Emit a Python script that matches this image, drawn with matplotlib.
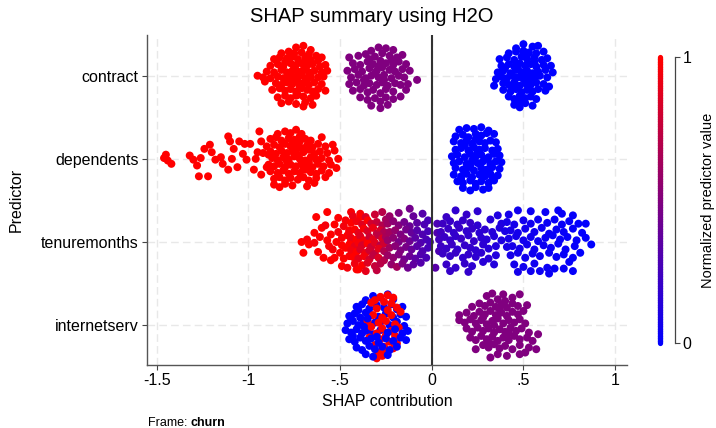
import matplotlib.pyplot as plt
import numpy as np
from matplotlib.colors import LinearSegmentedColormap
from matplotlib.collections import LineCollection

plt.rcParams['font.family'] = ['Liberation Sans', 'DejaVu Sans']

predictors = ['contract', 'dependents', 'tenuremonths', 'internetserv']
row_pos = [4, 3, 2, 1]
xticks = [-1.5, -1, -0.5, 0, 0.5, 1]
xtick_labels = ['-1.5', '-1', '-.5', '0', '.5', '1']

# (SHAP value, vertical jitter) for each observation, grouped by predictor level
contract_high = [
    (-0.74, 0.34), (-0.70, 0.36), (-0.66, 0.31),
    (-0.82, 0.27), (-0.78, 0.29), (-0.75, 0.27), (-0.71, 0.28), (-0.67, 0.26), (-0.63, 0.24),
    (-0.86, 0.20), (-0.83, 0.22), (-0.79, 0.21), (-0.76, 0.23), (-0.73, 0.20), (-0.69, 0.22),
    (-0.66, 0.19), (-0.62, 0.18), (-0.60, 0.22),
    (-0.88, 0.12), (-0.84, 0.14), (-0.81, 0.11), (-0.77, 0.15), (-0.74, 0.13), (-0.71, 0.15),
    (-0.68, 0.12), (-0.65, 0.14), (-0.61, 0.11), (-0.58, 0.13),
    (-0.90, 0.05), (-0.86, 0.04), (-0.82, 0.07), (-0.79, 0.04), (-0.76, 0.06), (-0.73, 0.05),
    (-0.70, 0.07), (-0.67, 0.04), (-0.64, 0.06), (-0.60, 0.04), (-0.57, 0.06),
    (-0.95, 0.00), (-0.92, -0.02), (-0.88, -0.03), (-0.84, -0.01), (-0.81, -0.03), (-0.78, 0.00),
    (-0.75, -0.02), (-0.72, 0.00), (-0.69, -0.03), (-0.66, -0.01), (-0.62, -0.02), (-0.59, -0.01),
    (-0.91, -0.07), (-0.85, -0.09), (-0.82, -0.11), (-0.79, -0.08), (-0.76, -0.10), (-0.73, -0.07),
    (-0.70, -0.09), (-0.67, -0.11), (-0.64, -0.08), (-0.60, -0.10),
    (-0.87, -0.17), (-0.83, -0.15), (-0.80, -0.18), (-0.77, -0.16), (-0.74, -0.19), (-0.71, -0.15),
    (-0.68, -0.17), (-0.65, -0.19), (-0.62, -0.16), (-0.58, -0.18),
    (-0.84, -0.26), (-0.80, -0.24), (-0.77, -0.27), (-0.73, -0.23), (-0.70, -0.25), (-0.66, -0.27),
    (-0.63, -0.24),
    (-0.82, -0.33), (-0.78, -0.31), (-0.74, -0.34), (-0.70, -0.37), (-0.69, -0.32), (-0.65, -0.35),
    (-0.75, 0.10), (-0.72, -0.13), (-0.69, 0.17), (-0.77, -0.05), (-0.71, 0.02), (-0.74, -0.24),
    (-0.68, -0.05), (-0.80, 0.16),
]
contract_mid = [
    (-0.29, 0.34), (-0.25, 0.33), (-0.21, 0.31), (-0.33, 0.30),
    (-0.45, 0.22), (-0.40, 0.24), (-0.36, 0.26), (-0.31, 0.23), (-0.27, 0.27), (-0.23, 0.24),
    (-0.19, 0.22), (-0.16, 0.25),
    (-0.43, 0.15), (-0.39, 0.13), (-0.35, 0.17), (-0.32, 0.14), (-0.28, 0.18), (-0.25, 0.15),
    (-0.21, 0.13), (-0.18, 0.17), (-0.14, 0.14),
    (-0.46, 0.06), (-0.42, 0.08), (-0.38, 0.05), (-0.34, 0.09), (-0.30, 0.06), (-0.27, 0.10),
    (-0.23, 0.07), (-0.20, 0.05), (-0.16, 0.08), (-0.12, 0.06),
    (-0.44, -0.02), (-0.40, 0.01), (-0.36, -0.03), (-0.33, 0.00), (-0.29, -0.02), (-0.26, 0.01),
    (-0.22, -0.03), (-0.18, 0.00), (-0.15, -0.02), (-0.08, -0.05),
    (-0.45, -0.10), (-0.41, -0.08), (-0.37, -0.12), (-0.34, -0.09), (-0.30, -0.11), (-0.27, -0.08),
    (-0.24, -0.12), (-0.20, -0.09), (-0.17, -0.11), (-0.13, -0.10),
    (-0.43, -0.18), (-0.39, -0.16), (-0.35, -0.20), (-0.32, -0.17), (-0.28, -0.21), (-0.25, -0.16),
    (-0.21, -0.19), (-0.14, -0.17),
    (-0.39, -0.26), (-0.35, -0.29), (-0.31, -0.27), (-0.28, -0.31), (-0.25, -0.26), (-0.21, -0.28),
    (-0.17, -0.25),
    (-0.33, -0.36), (-0.28, -0.39), (-0.24, -0.35),
    (-0.31, 0.03), (-0.26, -0.05), (-0.34, 0.20), (-0.22, 0.19), (-0.37, -0.05), (-0.29, 0.11),
]
contract_low = [
    (0.50, 0.38), (0.55, 0.35), (0.58, 0.36), (0.46, 0.33),
    (0.42, 0.27), (0.46, 0.29), (0.50, 0.30), (0.53, 0.28), (0.57, 0.27), (0.61, 0.29),
    (0.37, 0.20), (0.41, 0.22), (0.45, 0.19), (0.49, 0.23), (0.52, 0.20), (0.56, 0.22),
    (0.60, 0.19), (0.63, 0.21),
    (0.38, 0.12), (0.42, 0.14), (0.45, 0.11), (0.48, 0.15), (0.51, 0.12), (0.54, 0.14),
    (0.57, 0.11), (0.61, 0.13), (0.65, 0.12),
    (0.36, 0.04), (0.39, 0.06), (0.43, 0.03), (0.46, 0.07), (0.49, 0.04), (0.52, 0.06),
    (0.55, 0.03), (0.58, 0.05), (0.62, 0.07), (0.66, 0.04),
    (0.35, -0.04), (0.38, -0.01), (0.41, -0.03), (0.44, 0.00), (0.47, -0.02), (0.50, -0.04),
    (0.53, -0.01), (0.56, -0.03), (0.59, 0.00), (0.63, -0.02),
    (0.34, -0.12), (0.39, -0.09), (0.42, -0.11), (0.45, -0.08), (0.48, -0.12), (0.51, -0.09),
    (0.54, -0.11), (0.57, -0.08), (0.61, -0.10), (0.64, -0.13),
    (0.39, -0.17), (0.43, -0.19), (0.46, -0.16), (0.49, -0.20), (0.52, -0.17), (0.55, -0.19),
    (0.58, -0.16), (0.62, -0.18),
    (0.42, -0.25), (0.45, -0.28), (0.48, -0.24), (0.51, -0.27), (0.54, -0.25), (0.57, -0.28),
    (0.45, -0.35), (0.48, -0.38), (0.51, -0.33), (0.55, -0.36),
    (0.47, 0.09), (0.53, -0.06), (0.44, -0.14), (0.56, 0.17), (0.50, 0.00), (0.48, -0.30),
    (0.52, 0.25), (0.40, 0.09),
]

dependents_high = [
    (-1.46, 0.01), (-1.44, -0.02), (-1.42, -0.06), (-1.45, 0.05),
    (-1.32, 0.04), (-1.30, -0.01), (-1.28, -0.08), (-1.26, 0.01), (-1.27, -0.21), (-1.22, -0.21),
    (-1.24, 0.12), (-1.21, 0.17), (-1.20, 0.08), (-1.18, -0.01), (-1.15, 0.02), (-1.14, -0.06),
    (-1.11, 0.27), (-1.10, 0.21), (-1.08, 0.12), (-1.09, 0.00), (-1.11, -0.13), (-1.06, -0.10),
    (-1.05, 0.21), (-1.02, 0.18), (-1.03, 0.06), (-0.99, 0.18), (-1.01, -0.01), (-0.96, 0.00),
    (-0.95, 0.08), (-0.94, 0.33), (-0.93, 0.21), (-0.97, -0.13), (-0.93, -0.19), (-0.89, 0.05),
    (-0.90, -0.10),
    (-0.84, 0.30), (-0.80, 0.33), (-0.77, 0.31), (-0.74, 0.35), (-0.71, 0.30),
    (-0.88, 0.24), (-0.85, 0.26), (-0.82, 0.22), (-0.78, 0.25), (-0.75, 0.23), (-0.72, 0.27),
    (-0.69, 0.24), (-0.66, 0.22), (-0.60, 0.26),
    (-0.90, 0.15), (-0.86, 0.17), (-0.83, 0.14), (-0.80, 0.18), (-0.77, 0.15), (-0.74, 0.17),
    (-0.71, 0.13), (-0.68, 0.16), (-0.65, 0.14), (-0.62, 0.18), (-0.58, 0.15), (-0.54, 0.17),
    (-0.92, 0.07), (-0.88, 0.09), (-0.85, 0.06), (-0.82, 0.10), (-0.79, 0.07), (-0.76, 0.09),
    (-0.73, 0.05), (-0.70, 0.08), (-0.67, 0.11), (-0.64, 0.06), (-0.61, 0.09), (-0.57, 0.07),
    (-0.53, 0.10),
    (-0.87, 0.01), (-0.84, -0.02), (-0.81, 0.02), (-0.78, -0.01), (-0.75, 0.03), (-0.72, 0.00),
    (-0.69, -0.02), (-0.66, 0.02), (-0.63, -0.01), (-0.60, 0.01), (-0.56, -0.02), (-0.51, 0.00),
    (-0.89, -0.07), (-0.86, -0.09), (-0.83, -0.06), (-0.80, -0.10), (-0.77, -0.07), (-0.74, -0.09),
    (-0.71, -0.05), (-0.68, -0.08), (-0.65, -0.10), (-0.62, -0.06), (-0.59, -0.09), (-0.55, -0.07),
    (-0.52, -0.11),
    (-0.88, -0.15), (-0.84, -0.17), (-0.81, -0.14), (-0.78, -0.18), (-0.75, -0.15), (-0.72, -0.17),
    (-0.69, -0.13), (-0.66, -0.16), (-0.63, -0.18), (-0.60, -0.14), (-0.56, -0.17),
    (-0.86, -0.24), (-0.83, -0.22), (-0.80, -0.26), (-0.77, -0.23), (-0.73, -0.25), (-0.70, -0.22),
    (-0.67, -0.26), (-0.63, -0.23), (-0.58, -0.22),
    (-0.86, -0.31), (-0.83, -0.34), (-0.80, -0.30), (-0.76, -0.32), (-0.68, -0.33), (-0.64, -0.29),
    (-0.74, 0.12), (-0.70, -0.11), (-0.76, 0.20), (-0.67, -0.04), (-0.72, 0.21), (-0.79, -0.03),
]
dependents_low = [
    (0.15, 0.35), (0.19, 0.37), (0.23, 0.36), (0.27, 0.38), (0.31, 0.34),
    (0.13, 0.27), (0.17, 0.29), (0.20, 0.26), (0.24, 0.30), (0.27, 0.28), (0.30, 0.31), (0.34, 0.30),
    (0.12, 0.21), (0.16, 0.19), (0.19, 0.22), (0.22, 0.18), (0.26, 0.21), (0.29, 0.19),
    (0.32, 0.22), (0.35, 0.20),
    (0.13, 0.11), (0.16, 0.13), (0.20, 0.10), (0.23, 0.14), (0.26, 0.11), (0.29, 0.13),
    (0.33, 0.10), (0.36, 0.12),
    (0.11, 0.03), (0.14, 0.05), (0.18, 0.02), (0.21, 0.06), (0.24, 0.03), (0.27, 0.05),
    (0.31, 0.02), (0.34, 0.06), (0.37, 0.04),
    (0.12, -0.05), (0.15, -0.03), (0.19, -0.06), (0.22, -0.02), (0.25, -0.05), (0.28, -0.03),
    (0.32, -0.06), (0.35, -0.03), (0.38, -0.04),
    (0.13, -0.11), (0.17, -0.13), (0.20, -0.10), (0.23, -0.14), (0.27, -0.11), (0.30, -0.13),
    (0.33, -0.10), (0.37, -0.12),
    (0.12, -0.19), (0.16, -0.21), (0.19, -0.18), (0.22, -0.22), (0.26, -0.19), (0.29, -0.21),
    (0.32, -0.18), (0.36, -0.20),
    (0.14, -0.27), (0.17, -0.29), (0.21, -0.26), (0.24, -0.30), (0.27, -0.27), (0.31, -0.29),
    (0.34, -0.26),
    (0.17, -0.35), (0.21, -0.38), (0.24, -0.34), (0.28, -0.37), (0.31, -0.35),
    (0.18, 0.16), (0.25, 0.08), (0.21, -0.08), (0.28, -0.16), (0.24, 0.24), (0.30, 0.00),
    (0.16, -0.24), (0.33, -0.22),
]

# tenure carries its own normalized value per observation: (SHAP, jitter, value)
tenure = [
    (-0.71, 0.00, 1.0), (-0.70, -0.13, 1.0), (-0.68, 0.03, 0.98), (-0.67, -0.03, 1.0),
    (-0.64, 0.11, 1.0), (-0.64, -0.01, 0.97), (-0.63, 0.30, 1.0), (-0.62, -0.12, 1.0),
    (-0.61, 0.06, 0.99), (-0.60, 0.17, 1.0), (-0.59, -0.19, 1.0), (-0.58, 0.20, 0.96),
    (-0.57, 0.36, 1.0), (-0.57, 0.02, 1.0), (-0.56, -0.05, 0.98), (-0.55, -0.22, 1.0),
    (-0.55, 0.09, 1.0), (-0.54, -0.09, 0.97), (-0.53, 0.21, 1.0), (-0.53, -0.19, 1.0),
    (-0.52, 0.00, 1.0), (-0.51, 0.29, 0.99), (-0.51, 0.12, 0.96), (-0.50, -0.13, 1.0),
    (-0.49, -0.29, 1.0), (-0.49, 0.05, 0.98), (-0.49, -0.04, 1.0), (-0.48, 0.19, 0.95),
    (-0.48, -0.20, 1.0), (-0.47, 0.26, 0.97), (-0.47, -0.07, 1.0), (-0.46, 0.08, 0.99),
    (-0.46, -0.31, 0.96), (-0.45, 0.14, 1.0), (-0.45, -0.17, 0.98), (-0.44, 0.36, 0.97),
    (-0.44, 0.02, 1.0), (-0.41, -0.33, 1.0), (-0.39, 0.34, 0.98),
    (-0.43, 0.31, 0.92), (-0.39, 0.30, 1.0), (-0.36, 0.30, 0.85), (-0.31, 0.33, 0.80),
    (-0.27, 0.36, 0.72),
    (-0.44, 0.23, 1.0), (-0.41, 0.25, 0.95), (-0.38, 0.21, 0.88), (-0.35, 0.26, 1.0),
    (-0.33, 0.22, 0.82), (-0.30, 0.24, 0.78), (-0.27, 0.20, 0.70), (-0.25, 0.27, 0.65),
    (-0.45, 0.12, 0.96), (-0.42, 0.15, 1.0), (-0.40, 0.11, 0.90), (-0.37, 0.16, 0.97),
    (-0.35, 0.13, 0.85), (-0.32, 0.17, 0.92), (-0.30, 0.10, 0.76), (-0.28, 0.14, 0.83),
    (-0.26, 0.12, 0.68),
    (-0.44, 0.05, 0.93), (-0.41, 0.03, 1.0), (-0.39, 0.07, 0.87), (-0.37, 0.02, 0.95),
    (-0.34, 0.06, 0.80), (-0.32, 0.03, 0.90), (-0.29, 0.08, 0.74), (-0.27, 0.04, 0.86),
    (-0.25, 0.06, 0.66),
    (-0.45, -0.03, 1.0), (-0.42, -0.05, 0.91), (-0.40, -0.01, 0.97), (-0.38, -0.04, 0.84),
    (-0.35, -0.02, 1.0), (-0.33, -0.06, 0.79), (-0.31, -0.01, 0.88), (-0.28, -0.04, 0.72),
    (-0.26, -0.02, 0.81),
    (-0.44, -0.10, 0.95), (-0.41, -0.12, 1.0), (-0.39, -0.09, 0.86), (-0.36, -0.13, 0.93),
    (-0.34, -0.10, 0.82), (-0.31, -0.14, 0.77), (-0.29, -0.08, 0.90), (-0.26, -0.11, 0.69),
    (-0.43, -0.18, 1.0), (-0.40, -0.20, 0.89), (-0.37, -0.17, 0.96), (-0.34, -0.21, 0.83),
    (-0.32, -0.16, 0.75), (-0.29, -0.19, 0.86), (-0.26, -0.22, 0.71),
    (-0.42, -0.26, 0.94), (-0.38, -0.28, 1.0), (-0.35, -0.25, 0.87), (-0.31, -0.29, 0.78),
    (-0.28, -0.26, 0.73),
    (-0.40, -0.33, 1.0), (-0.36, -0.35, 0.90), (-0.30, -0.34, 0.76),
    (-0.23, 0.31, 0.60), (-0.18, 0.35, 0.50), (-0.12, 0.40, 0.45), (-0.10, 0.31, 0.40),
    (-0.05, 0.34, 0.33),
    (-0.24, 0.22, 0.62), (-0.21, 0.25, 0.55), (-0.18, 0.20, 0.52), (-0.15, 0.24, 0.45),
    (-0.12, 0.19, 0.42), (-0.08, 0.23, 0.36), (-0.04, 0.21, 0.30), (-0.02, 0.26, 0.28),
    (-0.23, 0.12, 0.64), (-0.20, 0.14, 0.58), (-0.17, 0.09, 0.50), (-0.14, 0.15, 0.46),
    (-0.11, 0.11, 0.40), (-0.08, 0.14, 0.34), (-0.05, 0.09, 0.31), (-0.02, 0.13, 0.28),
    (-0.24, 0.02, 0.60), (-0.21, 0.05, 0.56), (-0.18, 0.00, 0.48), (-0.15, 0.04, 0.52),
    (-0.12, 0.01, 0.43), (-0.09, 0.05, 0.36), (-0.06, -0.01, 0.32), (-0.03, 0.03, 0.29),
    (-0.01, 0.00, 0.27),
    (-0.23, -0.07, 0.63), (-0.20, -0.05, 0.54), (-0.17, -0.10, 0.50), (-0.14, -0.06, 0.47),
    (-0.11, -0.09, 0.41), (-0.08, -0.05, 0.35), (-0.05, -0.11, 0.31), (-0.02, -0.07, 0.28),
    (-0.24, -0.16, 0.61), (-0.21, -0.19, 0.57), (-0.18, -0.15, 0.51), (-0.15, -0.21, 0.45),
    (-0.12, -0.17, 0.42), (-0.09, -0.20, 0.36), (-0.06, -0.15, 0.32), (-0.03, -0.19, 0.29),
    (-0.22, -0.27, 0.58), (-0.19, -0.30, 0.64), (-0.16, -0.26, 0.49), (-0.13, -0.31, 0.44),
    (-0.10, -0.27, 0.38), (-0.06, -0.25, 0.33),
    (0.03, 0.22, 0.30), (0.03, 0.11, 0.32), (0.04, -0.11, 0.30), (0.02, -0.31, 0.34),
    (0.13, 0.38, 0.19), (0.19, 0.33, 0.21), (0.25, 0.37, 0.18), (0.36, 0.32, 0.12),
    (0.08, 0.30, 0.23),
    (0.06, 0.22, 0.24), (0.10, 0.25, 0.22), (0.14, 0.21, 0.20), (0.17, 0.26, 0.21),
    (0.21, 0.23, 0.22), (0.25, 0.20, 0.18), (0.32, 0.27, 0.15), (0.38, 0.22, 0.12),
    (0.05, 0.12, 0.25), (0.09, 0.16, 0.23), (0.12, 0.11, 0.20), (0.15, 0.17, 0.22),
    (0.19, 0.13, 0.19), (0.22, 0.16, 0.21), (0.26, 0.11, 0.17), (0.29, 0.15, 0.18),
    (0.33, 0.12, 0.15), (0.37, 0.17, 0.13), (0.40, 0.13, 0.10),
    (0.04, 0.03, 0.26), (0.07, 0.06, 0.23), (0.10, 0.02, 0.22), (0.13, 0.07, 0.20),
    (0.16, 0.04, 0.22), (0.20, 0.08, 0.19), (0.23, 0.01, 0.21), (0.27, 0.05, 0.17),
    (0.30, 0.03, 0.16), (0.34, 0.07, 0.14), (0.38, 0.02, 0.12),
    (0.05, -0.05, 0.24), (0.08, -0.08, 0.22), (0.11, -0.03, 0.23), (0.14, -0.09, 0.19),
    (0.18, -0.04, 0.21), (0.21, -0.07, 0.20), (0.24, -0.10, 0.18), (0.28, -0.03, 0.17),
    (0.31, -0.08, 0.15), (0.35, -0.05, 0.13), (0.41, -0.06, 0.10),
    (0.06, -0.14, 0.23), (0.10, -0.17, 0.21), (0.13, -0.13, 0.22), (0.17, -0.19, 0.19),
    (0.20, -0.15, 0.20), (0.24, -0.18, 0.18), (0.27, -0.13, 0.18), (0.31, -0.20, 0.16),
    (0.35, -0.16, 0.13),
    (0.08, -0.27, 0.22), (0.13, -0.31, 0.20), (0.18, -0.26, 0.21), (0.22, -0.29, 0.18),
    (0.28, -0.24, 0.16), (0.34, -0.27, 0.14), (0.10, -0.35, 0.21), (0.20, -0.36, 0.20),
    (0.42, 0.33, 0.08), (0.47, 0.38, 0.07), (0.54, 0.37, 0.05), (0.62, 0.36, 0.04),
    (0.69, 0.38, 0.03), (0.71, 0.34, 0.03), (0.77, 0.32, 0.02),
    (0.41, 0.24, 0.09), (0.45, 0.21, 0.08), (0.50, 0.26, 0.07), (0.54, 0.22, 0.06),
    (0.58, 0.27, 0.05), (0.63, 0.23, 0.04), (0.67, 0.27, 0.03), (0.71, 0.21, 0.03),
    (0.75, 0.25, 0.02), (0.80, 0.22, 0.01), (0.84, 0.22, 0.01),
    (0.43, 0.14, 0.09), (0.47, 0.11, 0.08), (0.51, 0.16, 0.07), (0.56, 0.12, 0.06),
    (0.60, 0.17, 0.05), (0.64, 0.10, 0.04), (0.68, 0.15, 0.03), (0.72, 0.12, 0.03),
    (0.77, 0.16, 0.02), (0.82, 0.11, 0.01),
    (0.42, 0.04, 0.09), (0.46, 0.07, 0.08), (0.50, 0.02, 0.07), (0.54, 0.06, 0.06),
    (0.58, 0.01, 0.05), (0.62, 0.05, 0.04), (0.66, 0.08, 0.03), (0.70, 0.03, 0.03),
    (0.74, 0.06, 0.02), (0.79, 0.02, 0.02), (0.84, 0.05, 0.01),
    (0.44, -0.05, 0.09), (0.48, -0.08, 0.08), (0.52, -0.03, 0.07), (0.56, -0.09, 0.06),
    (0.61, -0.04, 0.05), (0.65, -0.07, 0.04), (0.69, -0.02, 0.03), (0.73, -0.09, 0.03),
    (0.78, -0.05, 0.02), (0.87, -0.03, 0.00),
    (0.43, -0.16, 0.09), (0.47, -0.13, 0.08), (0.51, -0.19, 0.07), (0.55, -0.14, 0.06),
    (0.59, -0.17, 0.05), (0.64, -0.13, 0.04), (0.68, -0.18, 0.03), (0.72, -0.15, 0.03),
    (0.77, -0.19, 0.02), (0.81, -0.13, 0.01),
    (0.45, -0.27, 0.08), (0.50, -0.30, 0.07), (0.56, -0.26, 0.06), (0.63, -0.31, 0.04),
    (0.67, -0.32, 0.03), (0.72, -0.32, 0.03), (0.75, -0.24, 0.02),
    (0.47, -0.36, 0.08), (0.54, -0.35, 0.06), (0.59, -0.35, 0.05), (0.64, -0.38, 0.04),
    (0.77, -0.35, 0.02),
]

internet_low = [
    (-0.36, 0.30), (-0.32, 0.35), (-0.28, 0.33), (-0.24, 0.37), (-0.21, 0.31),
    (-0.41, 0.22), (-0.38, 0.25), (-0.34, 0.20), (-0.30, 0.24), (-0.26, 0.21), (-0.22, 0.25),
    (-0.19, 0.19), (-0.16, 0.22),
    (-0.45, 0.11), (-0.42, 0.14), (-0.39, 0.09), (-0.36, 0.15), (-0.33, 0.12), (-0.29, 0.10),
    (-0.25, 0.14), (-0.21, 0.09), (-0.17, 0.13), (-0.14, 0.10),
    (-0.46, 0.02), (-0.43, 0.05), (-0.40, 0.00), (-0.37, 0.04), (-0.34, -0.01), (-0.31, 0.03),
    (-0.27, 0.05), (-0.23, 0.00), (-0.19, 0.04), (-0.15, -0.01),
    (-0.47, -0.06), (-0.44, -0.09), (-0.41, -0.05), (-0.38, -0.10), (-0.35, -0.07), (-0.32, -0.11),
    (-0.28, -0.06), (-0.24, -0.09), (-0.20, -0.05), (-0.16, -0.10), (-0.13, -0.07),
    (-0.45, -0.17), (-0.42, -0.20), (-0.39, -0.15), (-0.36, -0.19), (-0.33, -0.16), (-0.29, -0.21),
    (-0.25, -0.16), (-0.21, -0.19), (-0.17, -0.15), (-0.14, -0.18),
    (-0.41, -0.27), (-0.38, -0.30), (-0.34, -0.25), (-0.31, -0.29), (-0.27, -0.26), (-0.23, -0.30),
    (-0.19, -0.26),
    (-0.36, -0.35), (-0.32, -0.38), (-0.24, -0.36),
    (-0.40, 0.18), (-0.37, -0.02), (-0.43, -0.13), (-0.35, 0.08), (-0.30, -0.14), (-0.44, 0.07),
]
internet_high = [
    (-0.28, 0.34), (-0.24, 0.36), (-0.21, 0.33), (-0.33, 0.27), (-0.26, 0.28), (-0.22, 0.26),
    (-0.30, 0.20), (-0.24, 0.18), (-0.19, 0.21), (-0.32, 0.12), (-0.27, 0.09), (-0.22, 0.12),
    (-0.29, 0.03), (-0.25, 0.05), (-0.20, 0.01), (-0.33, -0.02), (-0.27, -0.04), (-0.22, -0.07),
    (-0.18, -0.03), (-0.30, -0.10), (-0.25, -0.12), (-0.20, -0.13), (-0.34, -0.15), (-0.28, -0.17),
    (-0.23, -0.20), (-0.19, -0.22), (-0.31, -0.24), (-0.26, -0.26), (-0.21, -0.28), (-0.29, -0.33),
    (-0.27, -0.37), (-0.30, -0.40), (-0.25, -0.32), (-0.35, 0.05), (-0.17, 0.16), (-0.31, 0.30),
]
internet_mid = [
    (0.30, 0.35), (0.33, 0.38), (0.39, 0.37), (0.44, 0.33), (0.48, 0.37), (0.36, 0.31),
    (0.22, 0.22), (0.26, 0.26), (0.29, 0.23), (0.32, 0.27), (0.35, 0.22), (0.38, 0.25),
    (0.41, 0.21), (0.44, 0.26), (0.47, 0.23), (0.52, 0.24),
    (0.15, 0.12), (0.19, 0.15), (0.23, 0.11), (0.26, 0.16), (0.29, 0.13), (0.32, 0.17),
    (0.35, 0.12), (0.38, 0.15), (0.41, 0.11), (0.44, 0.16), (0.47, 0.13), (0.50, 0.17),
    (0.15, 0.06), (0.18, 0.03), (0.21, 0.07), (0.24, 0.02), (0.27, 0.06), (0.30, 0.01),
    (0.33, 0.05), (0.36, 0.08), (0.39, 0.02), (0.42, 0.06), (0.45, 0.03), (0.48, 0.07),
    (0.51, 0.02),
    (0.19, -0.04), (0.22, -0.08), (0.25, -0.03), (0.28, -0.07), (0.31, -0.04), (0.34, -0.09),
    (0.37, -0.05), (0.40, -0.08), (0.43, -0.03), (0.46, -0.07), (0.49, -0.04), (0.53, -0.09),
    (0.58, -0.11),
    (0.21, -0.15), (0.24, -0.18), (0.27, -0.13), (0.30, -0.17), (0.33, -0.14), (0.36, -0.19),
    (0.39, -0.15), (0.42, -0.18), (0.45, -0.13), (0.48, -0.17), (0.52, -0.15), (0.55, -0.19),
    (0.24, -0.29), (0.28, -0.24), (0.31, -0.27), (0.34, -0.23), (0.37, -0.28), (0.40, -0.25),
    (0.44, -0.29), (0.48, -0.24), (0.53, -0.27), (0.57, -0.29),
    (0.32, -0.39), (0.36, -0.35), (0.41, -0.37), (0.48, -0.35), (0.51, -0.33),
    (0.34, 0.00), (0.37, 0.19), (0.31, -0.21), (0.42, -0.10), (0.28, 0.09), (0.40, 0.29),
]

# draw order within each row: (points, normalized value)
groups = {
    'contract': [(contract_high, 1.0), (contract_mid, 0.5), (contract_low, 0.0)],
    'dependents': [(dependents_high, 1.0), (dependents_low, 0.0)],
    'internetserv': [(internet_low[:40], 0.0), (internet_high, 1.0),
                     (internet_low[40:], 0.0), (internet_mid, 0.5)],
}

cmap = LinearSegmentedColormap.from_list('bluered', ['#0000ff', '#ff0000'])
dot_size = 33

fig = plt.figure(figsize=(7.16, 4.28), dpi=100)
ax = fig.add_axes([147 / 716, 1 - 365 / 428, 480 / 716, 330 / 428])

for name, ypos in zip(predictors, row_pos):
    if name == 'tenuremonths':
        xs, dys, vals = zip(*tenure)
        ax.scatter(xs, ypos + np.array(dys), c=vals, cmap=cmap, vmin=0, vmax=1,
                   s=dot_size, linewidths=0, zorder=3)
        continue
    for pts, val in groups[name]:
        xs, dys = zip(*pts)
        ax.scatter(xs, ypos + np.array(dys), c=[val] * len(xs), cmap=cmap, vmin=0, vmax=1,
                   s=dot_size, linewidths=0, zorder=3)

ax.axvline(0, color='#333333', lw=1.5, zorder=4)

ax.set_xlim(-1.553, 1.065)
ax.set_ylim(0.52, 4.49)
ax.set_xticks(xticks)
ax.set_xticklabels(xtick_labels)
ax.set_yticks(row_pos)
ax.set_yticklabels(predictors)
ax.grid(True, color='#e8e8e8', lw=1, linestyle=(0, (5.5, 3)), zorder=0)
ax.set_axisbelow(True)
for s in ['top', 'right']:
    ax.spines[s].set_visible(False)
for s in ['left', 'bottom']:
    ax.spines[s].set_color('#555555')
    ax.spines[s].set_linewidth(1.0)
ax.tick_params(length=3.6, width=0.8, color='#444444', labelsize=11.5, pad=2.5,
               labelcolor='#000000')
ax.set_xlabel('SHAP contribution', fontsize=11.5, labelpad=4)
ax.set_ylabel('Predictor', fontsize=11.5, labelpad=12)

fig.text(372 / 716, 1 - 17 / 428, 'SHAP summary using H2O', fontsize=14.5,
         ha='center', va='center')

# colour scale: a thin rounded gradient bar with a 0-1 axis beside it
cax = fig.add_axes([645 / 716, 1 - 343 / 428, 30 / 716, 286 / 428])
cax.set_xlim(0, 1)
cax.set_ylim(0, 1)
yy = np.linspace(0, 1, 121)
segs = [[(0.5, a), (0.5, b)] for a, b in zip(yy[:-1], yy[1:])]
lc = LineCollection(segs, colors=cmap((yy[:-1] + yy[1:]) / 2), linewidths=3.8,
                    capstyle='round', clip_on=False)
cax.add_collection(lc)
for s in ['top', 'left', 'bottom']:
    cax.spines[s].set_visible(False)
cax.spines['right'].set_color('#444444')
cax.spines['right'].set_linewidth(0.9)
cax.set_xticks([])
cax.yaxis.tick_right()
cax.set_yticks([0, 1])
cax.set_yticklabels(['0', '1'])
cax.tick_params(axis='y', length=3.6, width=0.8, color='#444444', labelsize=11.5, pad=2)
cax.yaxis.set_label_position('right')
cax.set_ylabel('Normalized predictor value', fontsize=10.5, labelpad=7)
cax.patch.set_visible(False)

t = fig.text(148 / 716, 1 - 423 / 428, 'Frame: ', fontsize=9, va='center')
ax.annotate('churn', xy=(1, 0.5), xycoords=t, va='center', ha='left',
            fontsize=9, fontweight='bold')

fig.savefig('out.png', dpi=100)
